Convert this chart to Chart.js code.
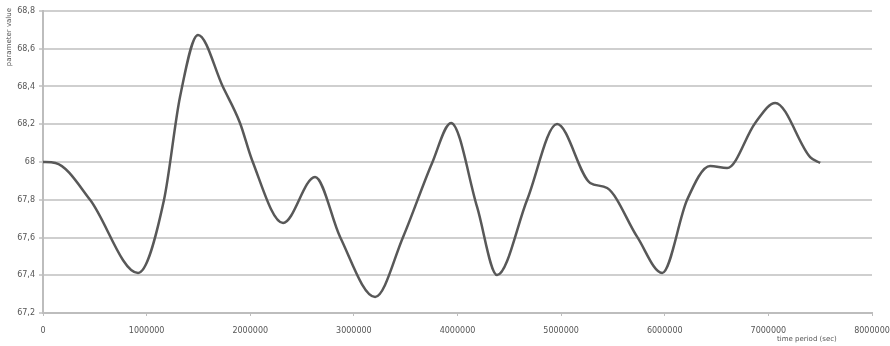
<!DOCTYPE html>
<html>
<head>
<meta charset="utf-8">
<script src="https://cdn.jsdelivr.net/npm/chart.js@4/dist/chart.umd.min.js"></script>
<style>
  html, body { margin: 0; padding: 0; background: #ffffff; }
  #wrap { width: 890px; height: 346px; position: relative; }
</style>
</head>
<body>
<div id="wrap"><canvas id="c" width="890" height="346"></canvas></div>
<script>
// Time (seconds) of each sample along the curve
const timeSec = [
  0, 120000, 454000, 917000, 1168000, 1322000, 1496000, 1737000, 1901000,
  2017000, 2317000, 2625000, 2867000, 3205000, 3475000, 3755000, 3938000,
  4189000, 4382000, 4672000, 4961000, 5280000, 5444000, 5734000, 5975000,
  6216000, 6438000, 6602000, 6873000, 7066000, 7403000, 7500000
];

// Parameter value at each sample
const paramValue = [
  68.000, 67.995, 67.800, 67.412, 67.800, 68.344, 68.673, 68.397, 68.207,
  68.011, 67.677, 67.921, 67.603, 67.285, 67.603, 67.995, 68.207,
  67.762, 67.401, 67.800, 68.201, 67.889, 67.862, 67.603, 67.412,
  67.800, 67.979, 67.968, 68.207, 68.313, 68.026, 67.995
];

// Axis ranges and tick spacing
const xRange = [0, 8000000];
const xStep = 1000000;
const yRange = [67.2, 68.8];
const yStep = 0.2;

const yTitle = 'parameter value';
const xTitle = 'time period (sec)';

const points = timeSec.map((t, i) => ({ x: t, y: paramValue[i] }));

// Axis titles drawn in the corners, as in a spreadsheet chart
const axisTitles = {
  id: 'axisTitles',
  afterDraw(chart) {
    const ctx = chart.ctx;
    ctx.save();
    ctx.fillStyle = '#555555';
    ctx.font = '7px "DejaVu Sans"';
    ctx.textBaseline = 'middle';
    ctx.save();
    ctx.translate(9, 8);
    ctx.rotate(-Math.PI / 2);
    ctx.textAlign = 'right';
    ctx.fillText(yTitle, 0, 0);
    ctx.restore();
    ctx.textAlign = 'left';
    ctx.fillText(xTitle, 777, 339);
    ctx.restore();
  }
};

new Chart(document.getElementById('c'), {
  type: 'scatter',
  data: {
    datasets: [{
      data: points,
      showLine: true,
      borderColor: '#585858',
      borderWidth: 2.5,
      pointRadius: 0,
      pointHoverRadius: 0,
      cubicInterpolationMode: 'monotone',
      fill: false
    }]
  },
  plugins: [axisTitles],
  options: {
    responsive: false,
    animation: false,
    devicePixelRatio: 1,
    layout: { padding: { top: 11, right: 18, left: 0, bottom: 0 } },
    plugins: {
      legend: { display: false },
      tooltip: { enabled: false }
    },
    scales: {
      x: {
        type: 'linear',
        min: xRange[0],
        max: xRange[1],
        afterFit(scale) {
          scale.height = 33;
          scale.paddingLeft = 0;
          scale.paddingRight = 0;
        },
        ticks: {
          stepSize: xStep,
          maxRotation: 0,
          autoSkip: false,
          color: '#555555',
          font: { family: 'DejaVu Sans', size: 8 },
          padding: 10,
          callback: v => String(Math.round(v))
        },
        grid: {
          drawOnChartArea: false,
          drawTicks: true,
          tickLength: 3,
          color: '#bdbdbd',
          lineWidth: 1
        },
        border: { color: '#bdbdbd', width: 2 }
      },
      y: {
        type: 'linear',
        min: yRange[0],
        max: yRange[1],
        afterFit(scale) {
          scale.width = 43;
          scale.paddingTop = 0;
          scale.paddingBottom = 0;
        },
        ticks: {
          stepSize: yStep,
          autoSkip: false,
          color: '#555555',
          font: { family: 'DejaVu Sans', size: 8 },
          padding: 4,
          callback: v => String(Number(v.toFixed(1))).replace('.', ',')
        },
        grid: {
          drawTicks: true,
          tickLength: 4,
          color: '#cfcfcf',
          lineWidth: 2
        },
        border: { color: '#bdbdbd', width: 2 }
      }
    }
  }
});
</script>
</body>
</html>
